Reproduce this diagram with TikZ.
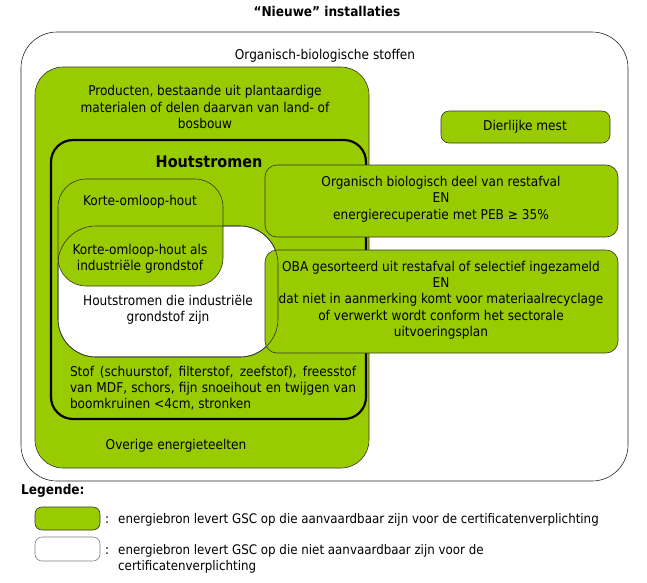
\documentclass[tikz,border=0pt]{standalone}
\usepackage{fontspec}
\setmainfont{DejaVu Sans Condensed}
\definecolor{lgreen}{HTML}{99CC00}
\definecolor{edge}{HTML}{333333}
\begin{document}
\begin{tikzpicture}[x=1pt,y=-1pt,
  box/.style={anchor=north west, inner sep=0pt, outer sep=0pt, draw=edge, line width=0.6pt},
  gbox/.style={box, fill=lgreen},
  txt/.style={font=\fontsize{13.5}{16.3}\selectfont, inner sep=0pt, align=center},
  ltxt/.style={font=\fontsize{13.2}{16}\selectfont, inner sep=0pt},
  btxt/.style={font=\fontsize{13.5}{16}\selectfont\bfseries, inner sep=0pt}]
\useasboundingbox (0,0) rectangle (647,582);
% title
\node[btxt] (title) at (327,11) {“Nieuwe” installaties};
% outer
\node[box, draw=black!85, rounded corners=36pt, minimum width=607pt, minimum height=449pt] (outer) at (21,32) {};
\node[txt] (organ) at (325,56) {Organisch-biologische stoffen};
% big green
\node[gbox, rounded corners=28pt, minimum width=334pt, minimum height=401pt] (big) at (35,67) {};
\node[txt] (prod) at (205,107) {Producten, bestaande uit plantaardige\\materialen of delen daarvan van land- of\\bosbouw};
% houtstromen thick box
\node[box, draw=black, line width=2.2pt, rounded corners=22pt, minimum width=315pt, minimum height=279pt] (hout) at (51,140) {};
\node[btxt, font=\fontsize{16}{16}\selectfont\bfseries] (houtt) at (209,162) {Houtstromen};
% white box
\node[box, fill=white, rounded corners=38pt, minimum width=220pt, minimum height=131pt] (white) at (58,226) {};
% korte omloop
\node[gbox, rounded corners=28pt, minimum width=165pt, minimum height=107pt] (korte) at (58,179) {};
% organisch box
\node[gbox, rounded corners=12pt, minimum width=353pt, minimum height=72pt] (orgb) at (265,165) {};
% OBA box
\node[gbox, rounded corners=12pt, minimum width=353pt, minimum height=103pt] (oba) at (265,250) {};
% dierlijke mest
\node[gbox, rounded corners=8pt, minimum width=169pt, minimum height=32pt] (dier) at (441,111) {};
% redraw white outline over overlaps
\node[box, rounded corners=38pt, minimum width=220pt, minimum height=131pt] (whiteo) at (58,226) {};
% texts
\node[txt] (kt) at (140,202) {Korte-omloop-hout};
\node[txt] (kti) at (140,259) {Korte-omloop-hout als\\industriële grondstof};
\node[txt] (wt) at (168,310) {Houtstromen die industriële\\grondstof zijn};
\node[txt, align=left] (stof) at (213,388) {\makebox[286pt][s]{Stof (schuurstof, filterstof, zeefstof), freesstof}\\\makebox[286pt][s]{van MDF, schors, fijn snoeihout en twijgen van}\\\makebox[286pt][l]{boomkruinen <4cm, stronken}};
\node[txt] (over) at (176,446) {Overige energieteelten};
\node[txt] (diert) at (525,127) {Dierlijke mest};
\node[txt] (orgt) at (441,199) {Organisch biologisch deel van restafval\\EN\\energierecuperatie met PEB ≥ 35\%};
\node[txt] (obat) at (441,300) {OBA gesorteerd uit restafval of selectief ingezameld\\EN\\dat niet in aanmerking komt voor materiaalrecyclage\\of verwerkt wordt conform het sectorale\\uitvoeringsplan};
% legend
\node[btxt, anchor=west] (leg) at (21,491) {Legende:};
\node[gbox, rounded corners=7pt, minimum width=65pt, minimum height=23pt] (lg) at (35,507) {};
\node[box, draw=gray, rounded corners=7pt, minimum width=65pt, minimum height=24pt] (lw) at (35,537) {};
\node[ltxt, anchor=west] (c1) at (105,520) {:};
\node[ltxt, anchor=west] (l1) at (118,520) {energiebron levert GSC op die aanvaardbaar zijn voor de certificatenverplichting};
\node[ltxt, anchor=west] (c2) at (105,551) {:};
\node[ltxt, anchor=north west, align=left] (l2) at (118,544) {energiebron levert GSC op die niet aanvaardbaar zijn voor de\\certificatenverplichting};
\end{tikzpicture}
\end{document}
